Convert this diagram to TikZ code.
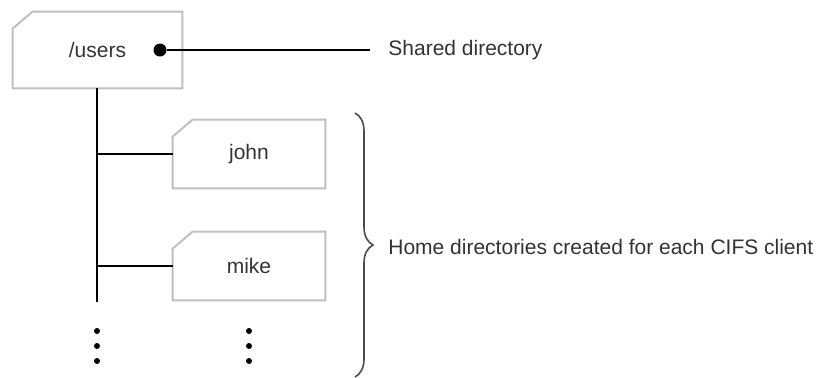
\documentclass[tikz,border=0pt]{standalone}
\usepackage{fontspec}
\setmainfont{Liberation Sans}
\usetikzlibrary{decorations.pathreplacing}

\begin{document}
\begin{tikzpicture}[x=0.5pt, y=0.5pt,
    every node/.style={font=\fontsize{10.5}{12}\selectfont, text=black!80},
    dirbox/.style={rectangle, draw=none, minimum height=34pt, minimum width=76pt},
    dirline/.style={draw=black!25, line width=1pt},
    link/.style={line width=0.9pt},
    dot/.style={circle, fill=black, inner sep=0, minimum size=#1}]
    \useasboundingbox (0,0) rectangle (822,-377);

    \draw(97.5, -50) node [dirbox, minimum width=84.5pt, minimum height=38pt](users){/users};
    \draw(249, -154) node [dirbox](john){john};
    \draw(249, -266) node [dirbox](mike){mike};

    % folder outlines with the cut corner
    \foreach \n in {users, john, mike}
        \draw[dirline] (\n.north west) ++(0,-17) -- ++(20,17) -- (\n.north east) -- (\n.south east) -- (\n.south west) -- cycle;

    \draw(160, -50) node [dot=6.5pt](hub){};
    \draw(370, -50) coordinate (sharedend);
    \draw(388, -50) node [anchor=west, inner sep=0](shared){Shared directory};
    \draw[link] (hub) -- (sharedend);

    \draw(97, -302) coordinate (trunkend);
    \draw(97, -154) coordinate (bjohn);
    \draw(97, -266) coordinate (bmike);
    \draw[link] (users.south -| trunkend) -- (trunkend);
    \draw[link] (bjohn) -- (john.west);
    \draw[link] (bmike) -- (mike.west);

    % more entries
    \foreach \y [count=\i] in {-331, -346, -361} {
        \draw(97, \y) node [dot=3pt](ldot\i){};
        \draw(249, \y) node [dot=3pt](rdot\i){};
    }

    \draw(355, -113) coordinate (bracetop);
    \draw(355, -377) coordinate (bracebot);
    \draw[draw=black!70, line width=0.8pt, decorate, decoration={brace, amplitude=9pt}] (bracetop) -- (bracebot);
    \draw(388, -247) node [anchor=west, inner sep=0](home){Home directories created for each CIFS client};
\end{tikzpicture}
\end{document}
